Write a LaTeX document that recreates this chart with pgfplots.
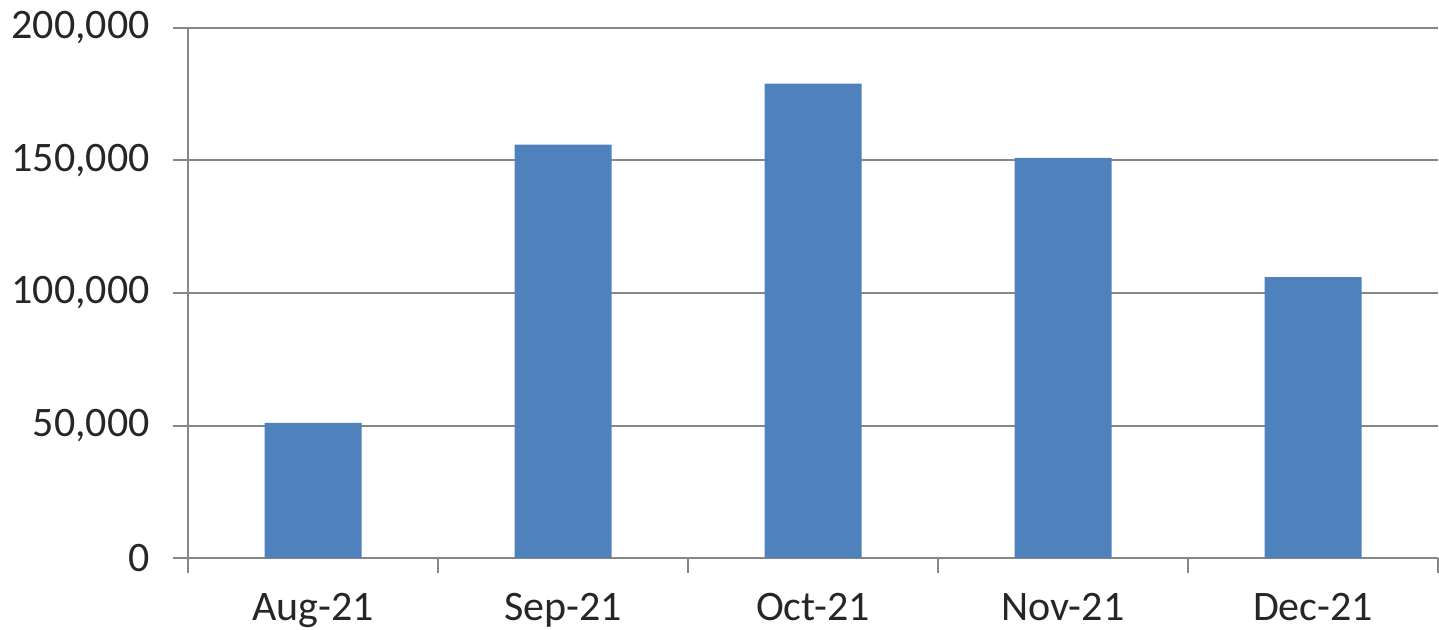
\documentclass[border=0pt]{standalone}
\usepackage{fontspec}
\setmainfont{Carlito}
\usepackage{pgfplots}
\pgfplotsset{compat=1.18}

\definecolor{barblue}{HTML}{4F81BD}
\definecolor{gridgray}{HTML}{878787}

\begin{document}
\begin{tikzpicture}
\path[use as bounding box] (-188pt,-71pt) rectangle (1251pt,558pt);
\begin{axis}[
    at={(0,0)}, anchor=south west,
    scale only axis,
    width=1250pt, height=530pt,
    xmin=-0.5, xmax=4.5,
    ymin=0, ymax=200000,
    axis x line*=bottom,
    axis y line*=left,
    axis line style={gridgray, line width=2pt},
    ytick={0,50000,100000,150000,200000},
    scaled y ticks=false,
    xtick={-0.5,0.5,1.5,2.5,3.5,4.5},
    x tick label as interval,
    xticklabels={Aug-21,Sep-21,Oct-21,Nov-21,Dec-21},
    ymajorgrids,
    grid style={gridgray, line width=2pt},
    tick align=outside,
    major tick length=15pt,
    tick style={gridgray, line width=2pt},
    ticklabel style={font=\fontsize{42}{50}\selectfont, text=black!85},
    yticklabel style={anchor=east, inner sep=0pt, xshift=-23pt},
    xticklabel style={anchor=north, inner sep=0pt, yshift=-20pt},
    /pgf/number format/assume math mode=true,
    /pgf/number format/.cd, 1000 sep={,}, fixed, precision=0,
]
\addplot[ybar, bar width=97pt, fill=barblue, draw=none] coordinates {
    (0, 51000)
    (1, 156000)
    (2, 179000)
    (3, 151000)
    (4, 106000)
};
\end{axis}
\end{tikzpicture}
\end{document}
